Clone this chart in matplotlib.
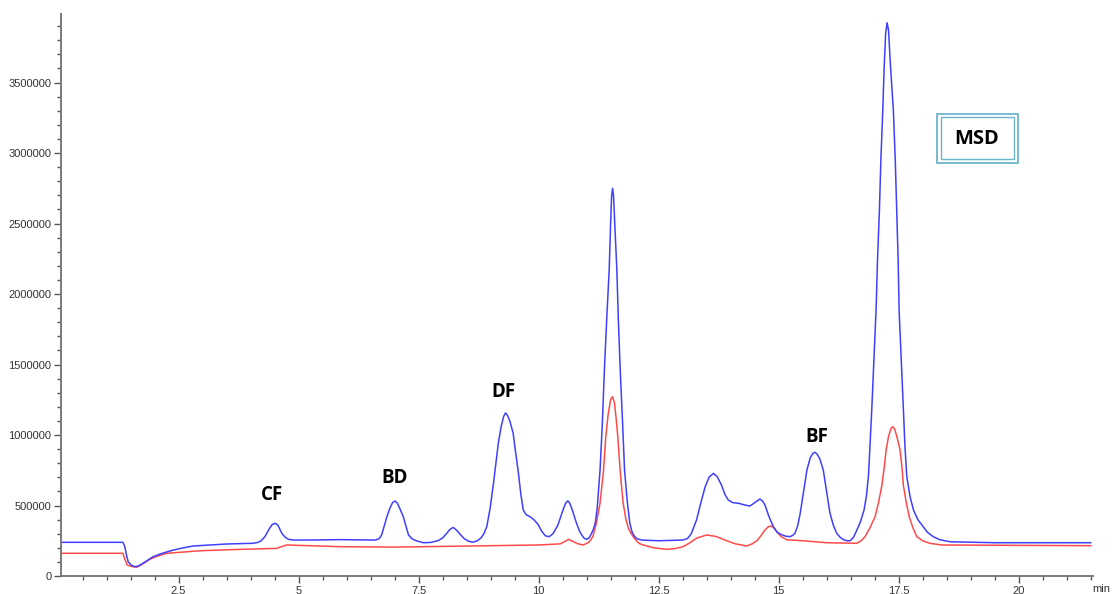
import matplotlib
matplotlib.use('Agg')
import matplotlib.pyplot as plt
from matplotlib.patches import Rectangle
from matplotlib.ticker import MultipleLocator, FuncFormatter

# retention time (min) and abundance
blue_t = [0.06, 1.34, 1.38, 1.42, 1.45, 1.52, 1.59, 1.65, 1.70, 1.80, 1.97, 2.15,
          2.39, 2.60, 2.81, 3.50, 4.05, 4.15, 4.22, 4.30, 4.38, 4.45, 4.51, 4.57,
          4.65, 4.72, 4.79, 4.90, 5.17, 5.86, 6.60, 6.68, 6.73, 6.78, 6.84, 6.90,
          6.96, 7.01, 7.06, 7.12, 7.18, 7.24, 7.29, 7.36, 7.45, 7.60, 7.75, 7.90,
          8.00, 8.08, 8.15, 8.22, 8.29, 8.38, 8.46, 8.55, 8.64, 8.72, 8.80, 8.86,
          8.92, 8.99, 9.06, 9.11, 9.16, 9.22, 9.27, 9.31, 9.35, 9.40, 9.47, 9.52,
          9.58, 9.63, 9.68, 9.74, 9.82, 9.90, 9.99, 10.06, 10.14, 10.22, 10.30,
          10.40, 10.47, 10.52, 10.57, 10.61, 10.65, 10.70, 10.79, 10.85, 10.90,
          10.95, 11.00, 11.05, 11.10, 11.14, 11.18, 11.22, 11.28, 11.33, 11.37,
          11.42, 11.47, 11.50, 11.52, 11.54, 11.56, 11.59, 11.63, 11.66, 11.70,
          11.75, 11.79, 11.85, 11.90, 11.94, 11.97, 12.04, 12.15, 12.50, 13.00,
          13.10, 13.18, 13.29, 13.38, 13.47, 13.55, 13.64, 13.72, 13.81, 13.88,
          13.95, 14.05, 14.16, 14.28, 14.40, 14.50, 14.61, 14.67, 14.72, 14.80,
          14.89, 14.97, 15.05, 15.15, 15.24, 15.30, 15.34, 15.40, 15.45, 15.52,
          15.59, 15.66, 15.72, 15.76, 15.80, 15.86, 15.93, 16.00, 16.07, 16.14,
          16.21, 16.28, 16.35, 16.42, 16.49, 16.56, 16.63, 16.70, 16.78, 16.83,
          16.87, 16.90, 16.94, 16.98, 17.03, 17.06, 17.10, 17.13, 17.17, 17.20,
          17.23, 17.26, 17.29, 17.33, 17.39, 17.43, 17.46, 17.49, 17.51, 17.56,
          17.60, 17.63, 17.67, 17.74, 17.81, 17.90, 18.01, 18.10, 18.22, 18.35,
          18.57, 19.50, 21.50]
blue_v = [239000, 239000, 208000, 140000, 101000, 75000, 66000, 70000, 78000,
          100000, 137000, 160000, 184000, 200000, 213000, 227000, 232000, 238000,
          250000, 280000, 330000, 365000, 374000, 360000, 303000, 275000, 260000,
          255000, 255000, 258000, 255000, 265000, 291000, 350000, 421000, 480000,
          522000, 532000, 515000, 470000, 421000, 350000, 291000, 265000, 250000,
          236000, 238000, 250000, 270000, 300000, 330000, 345000, 325000, 290000,
          262000, 245000, 240000, 250000, 270000, 300000, 350000, 480000, 657000,
          800000, 941000, 1060000, 1130000, 1157000, 1140000, 1100000, 1012000,
          880000, 728000, 580000, 468000, 435000, 421000, 400000, 365000, 320000,
          285000, 279000, 300000, 360000, 430000, 480000, 520000, 533000, 515000,
          470000, 374000, 320000, 290000, 268000, 260000, 270000, 300000, 330000,
          376000, 480000, 752000, 1100000, 1461000, 1830000, 2170000, 2500000,
          2690000, 2750000, 2700000, 2480000, 2170000, 1830000, 1461000, 1080000,
          752000, 518000, 376000, 320000, 295000, 265000, 255000, 250000, 255000,
          265000, 300000, 397000, 520000, 633000, 700000, 728000, 705000, 645000,
          580000, 539000, 520000, 516000, 505000, 496000, 520000, 546000, 530000,
          500000, 420000, 350000, 310000, 295000, 282000, 279000, 290000, 303000,
          360000, 445000, 600000, 752000, 840000, 872000, 877000, 865000, 830000,
          752000, 600000, 445000, 360000, 303000, 275000, 258000, 250000, 250000,
          275000, 326000, 380000, 468000, 570000, 704000, 900000, 1177000, 1500000,
          1886000, 2240000, 2596000, 2950000, 3305000, 3620000, 3850000, 3924000,
          3870000, 3620000, 3305000, 2950000, 2596000, 2240000, 1886000, 1500000,
          1177000, 930000, 704000, 560000, 468000, 400000, 350000, 310000, 279000,
          258000, 243000, 236000, 236000]

red_t = [0.06, 1.34, 1.38, 1.43, 1.52, 1.63, 1.75, 1.90, 2.05, 2.25, 2.95, 3.78,
         4.54, 4.75, 5.86, 7.00, 8.00, 9.00, 10.00, 10.45, 10.55, 10.62, 10.70,
         10.80, 10.93, 11.05, 11.13, 11.20, 11.28, 11.35, 11.40, 11.45, 11.50,
         11.54, 11.58, 11.62, 11.65, 11.70, 11.76, 11.82, 11.88, 11.97, 12.05,
         12.10, 12.18, 12.40, 12.67, 12.85, 13.01, 13.15, 13.30, 13.50, 13.70,
         13.92, 14.10, 14.33, 14.45, 14.55, 14.63, 14.70, 14.78, 14.84, 14.90,
         14.95, 15.05, 15.17, 15.51, 16.00, 16.63, 16.72, 16.80, 16.90, 17.01,
         17.08, 17.15, 17.20, 17.24, 17.29, 17.34, 17.38, 17.42, 17.47, 17.53,
         17.57, 17.60, 17.66, 17.72, 17.80, 17.88, 18.00, 18.15, 18.40, 21.50]
red_v = [161000, 161000, 120000, 78000, 68000, 62000, 85000, 118000, 140000,
         161000, 179000, 189000, 196000, 220000, 208000, 205000, 210000, 215000,
         220000, 228000, 245000, 260000, 248000, 230000, 220000, 240000, 279000,
         370000, 518000, 740000, 988000, 1150000, 1250000, 1272000, 1230000,
         1100000, 988000, 740000, 518000, 400000, 330000, 279000, 245000, 230000,
         220000, 200000, 189000, 195000, 208000, 235000, 270000, 291000, 280000,
         250000, 228000, 213000, 228000, 250000, 285000, 320000, 348000, 355000,
         342000, 320000, 280000, 257000, 250000, 236000, 232000, 250000, 279000,
         340000, 421000, 520000, 640000, 770000, 894000, 990000, 1045000, 1059000,
         1040000, 980000, 894000, 770000, 640000, 520000, 421000, 340000, 279000,
         250000, 232000, 220000, 215000]

peak_names = ['CF', 'BD', 'DF', 'BF']
peak_label_t = [4.45, 7.01, 9.26, 15.80]
peak_label_v = [574000, 695000, 1305000, 986000]

fig = plt.figure(figsize=(11.15, 5.94), dpi=100)
ax = fig.add_axes([0.0547, 0.0303, 0.9256, 0.9461])

ax.plot(red_t, red_v, color='#ff4a4a', linewidth=1.1)
ax.plot(blue_t, blue_v, color='#3f3fff', linewidth=1.1)

ax.set_xlim(0.05, 21.55)
ax.set_ylim(0, 3986000)

for side in ['top', 'right']:
    ax.spines[side].set_visible(False)
for side in ['left', 'bottom']:
    ax.spines[side].set_color('#7a7a7a')
    ax.spines[side].set_linewidth(1.4)

ax.xaxis.set_major_locator(MultipleLocator(2.5))
ax.xaxis.set_minor_locator(MultipleLocator(0.5))
ax.yaxis.set_major_locator(MultipleLocator(500000))
ax.yaxis.set_minor_locator(MultipleLocator(100000))
ax.xaxis.set_major_formatter(FuncFormatter(lambda v, p: '' if v <= 0 else f'{v:g}'))
ax.yaxis.set_major_formatter(FuncFormatter(lambda v, p: f'{int(v)}'))

ax.tick_params(axis='both', which='major', length=5, width=1, color='#555555',
               labelsize=8, labelcolor='#333333', pad=2)
ax.tick_params(axis='both', which='minor', length=3, width=1, color='#555555')
for lbl in ax.get_xticklabels() + ax.get_yticklabels():
    lbl.set_family('Liberation Sans')

ax.text(1.008, -0.023, 'min', transform=ax.transAxes, fontsize=8,
        color='#333333', family='Liberation Sans', ha='center', va='center')

for name, t, v in zip(peak_names, peak_label_t, peak_label_v):
    ax.text(t, v, name, fontsize=13.5, fontweight='bold', family='Open Sans',
            ha='center', va='center', color='black')

# MSD legend box with double border
fig.patches.append(Rectangle((937 / 1115, 1 - 162.5 / 594), 81 / 1115, 49 / 594,
                             transform=fig.transFigure, fill=False,
                             edgecolor='#6cb6cc', linewidth=1.3))
fig.patches.append(Rectangle((941 / 1115, 1 - 159 / 594), 73 / 1115, 42 / 594,
                             transform=fig.transFigure, fill=False,
                             edgecolor='#6cb6cc', linewidth=1.0))
fig.text(976.5 / 1115, 1 - 139 / 594, 'MSD', fontsize=14.5, fontweight='bold',
         family='Open Sans', ha='center', va='center', color='black')

fig.savefig('out.png', dpi=100, facecolor='white')
